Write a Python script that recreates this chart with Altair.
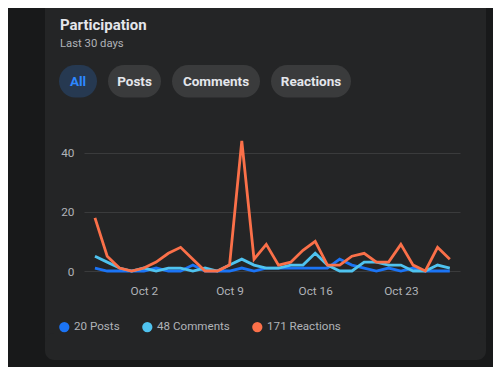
import altair as alt
import pandas as pd

# ---- data ----
start_date = "2023-09-28"
posts =     [1, 0, 0, 0, 0, 1, 0, 0, 2, 0, 0, 0, 1, 0, 1, 1, 1, 1, 1, 1, 4, 2, 1, 0, 1, 0, 1, 0, 0, 0]
comments =  [5, 3, 1, 0, 1, 0, 1, 1, 0, 1, 0, 2, 4, 2, 1, 1, 2, 2, 6, 2, 0, 0, 3, 3, 2, 2, 0, 0, 2, 1]
reactions = [18, 5, 1, 0, 1, 3, 6, 8, 4, 0, 0, 2, 44, 4, 9, 2, 3, 7, 10, 2, 2, 5, 6, 3, 3, 9, 2, 0, 8, 4]
series_names = ["Posts", "Comments", "Reactions"]
series_colors = ["#1b74f5", "#4fc3ef", "#fb7049"]
filter_labels = ["All", "Posts", "Comments", "Reactions"]
x_tick_days = ["2023-10-02", "2023-10-09", "2023-10-16", "2023-10-23"]
y_ticks = [0, 20, 40]

title_text = "Participation"
subtitle_text = "Last 30 days"

# ---- build table ----
dates = pd.date_range(start_date, periods=len(posts), freq="D")
rows = []
totals = {}
for name, vals in zip(series_names, [posts, comments, reactions]):
    totals[name] = sum(vals)
    label = f"{sum(vals)} {name}"
    for d, v in zip(dates, vals):
        rows.append({"date": d.strftime("%Y-%m-%d"), "value": v, "series": label})
df = pd.DataFrame(rows)
legend_labels = [f"{totals[n]} {n}" for n in series_names]

OUTER = "#18191a"
CARD = "#242526"
PILL = "#3a3b3c"
PILL_SEL = "#263951"
TXT = "#e4e6eb"
TXT2 = "#b0b3b8"
FONT = "Roboto"

W, H = 376, 133

def dt(s, h=0, m=0):
    y, mo, d = [int(p) for p in s.split("-")]
    return alt.DateTime(year=y, month=mo, date=d, hours=h, minutes=m, utc=True)

one = alt.Data(values=[{}])

def box(x1, x2, y1, y2, color, r=0):
    return alt.Chart(one).mark_rect(color=color, cornerRadius=r).encode(
        x=alt.value(x1), x2=alt.value(x2), y=alt.value(y1), y2=alt.value(y2))

def label(text, x, y, size, color, weight="normal", align="left", baseline="alphabetic"):
    return alt.Chart(one).mark_text(
        text=text, font=FONT, fontSize=size, fontWeight=weight, color=color,
        align=align, baseline=baseline).encode(x=alt.value(x), y=alt.value(y))

# outer background strips + rounded card bottom
deco = [
    box(-76, -39, -130, 229, OUTER),
    box(402, 409, -130, 229, OUTER),
    box(-76, 409, 222, 229, OUTER),
    box(-39, 402, 212, 222, OUTER),
    box(-39, 402, 195, 222, CARD, 9),
]

texts = [
    label(title_text, -24, -107.7, 15, TXT, weight="bold"),
    label(subtitle_text, -24, -90.8, 11.3, TXT2),
]

pill_pos = [(-25, 13), (24, 77), (88, 176), (187, 267)]
pills = []
for i, (lab, (a, b)) in enumerate(zip(filter_labels, pill_pos)):
    pills.append(box(a, b, -73, -40.5, PILL_SEL if i == 0 else PILL, 16.5))
    pills.append(label(lab, (a + b) / 2, -56.5, 13.5, "#2d88ff" if i == 0 else TXT,
                       weight="bold", align="center", baseline="middle"))

x_enc = alt.X("date:T",
              scale=alt.Scale(type="utc", domain=[dt("2023-09-27", 2, 30), dt("2023-10-27", 20, 0)]),
              axis=alt.Axis(values=[dt(s) for s in x_tick_days], format="%b %-d", title=None,
                            grid=False, ticks=False, domain=False, labelPadding=14,
                            labelFontSize=11.8, labelColor=TXT2, labelFont=FONT))
y_enc = alt.Y("value:Q",
              scale=alt.Scale(domain=[0, 45], nice=False),
              axis=alt.Axis(values=y_ticks, title=None, ticks=False, domain=False,
                            labelPadding=10, labelFontSize=11.8, labelColor=TXT2, labelFont=FONT,
                            gridColor="#3a3b3c", gridWidth=1))
color_scale = alt.Scale(domain=legend_labels, range=series_colors)

lines = alt.Chart(df).mark_line(strokeWidth=2.8, strokeJoin="miter").encode(
    x=x_enc, y=y_enc,
    color=alt.Color("series:N", scale=color_scale, sort=legend_labels, legend=None),
)

legend_pts = alt.Chart(df).mark_circle(size=0).encode(
    x=x_enc, y=y_enc,
    color=alt.Color("series:N", scale=color_scale, sort=legend_labels,
                    legend=alt.Legend(
                        title=None, orient="none", legendX=-25.5, legendY=183,
                        direction="horizontal", symbolType="circle", symbolSize=105,
                        symbolOpacity=1, labelFont=FONT, labelFontSize=11.6, labelColor=TXT2,
                        labelOffset=4, columnPadding=21, symbolStrokeWidth=0)),
)

chart = alt.layer(*deco, *texts, *pills, lines, legend_pts).resolve_legend(
    color="independent"
).properties(
    width=W, height=H,
    autosize="none",
    padding={"left": 76, "top": 130, "right": 33, "bottom": 96},
    background=CARD,
).configure_view(stroke=None)

chart.save("out.html", embed_options={"renderer": "svg", "actions": False})
